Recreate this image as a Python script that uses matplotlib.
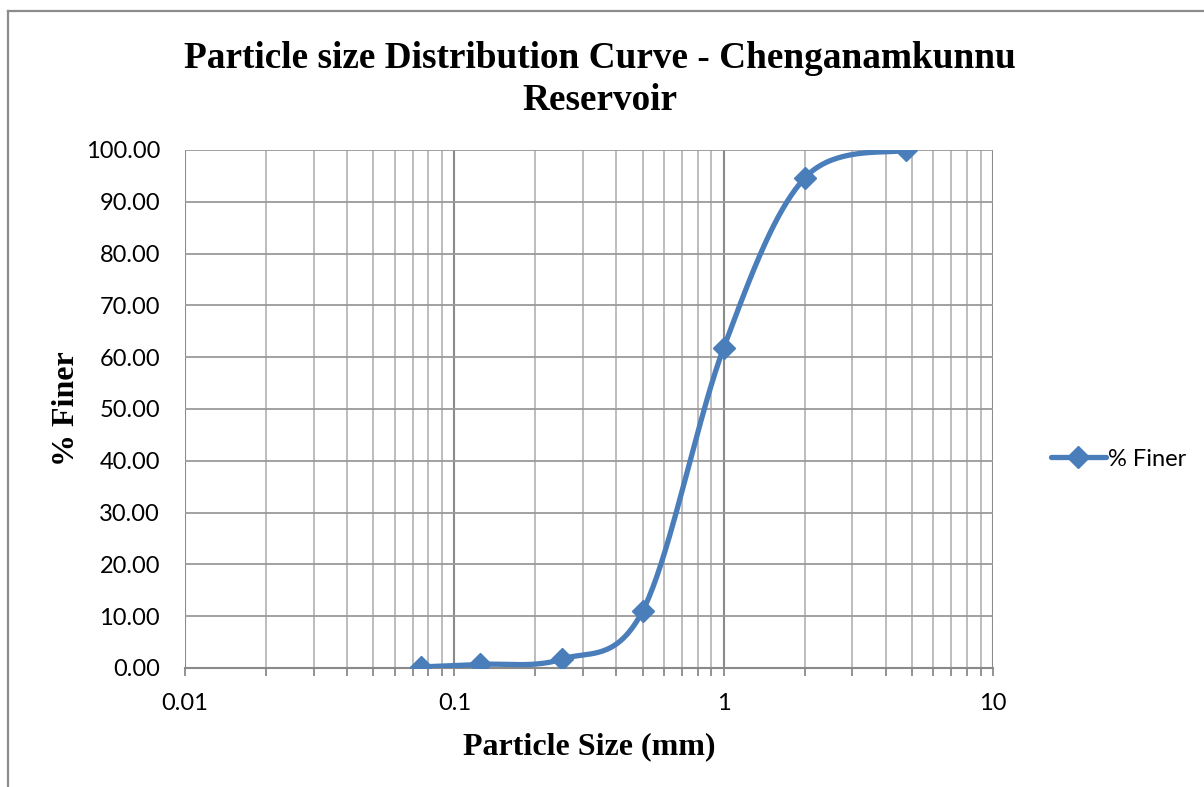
import numpy as np
import matplotlib.pyplot as plt
from matplotlib.ticker import LogLocator, FixedLocator, NullFormatter
from matplotlib.lines import Line2D

# sieve analysis results
sizes = [0.075, 0.125, 0.25, 0.5, 1.0, 2.0, 4.75]
finer = [0.2, 0.7, 1.7, 11.0, 61.8, 94.6, 100.0]
y_ticks = [0, 10, 20, 30, 40, 50, 60, 70, 80, 90, 100]
x_ticks = [0.01, 0.1, 1, 10]
x_labels = ['0.01', '0.1', '1', '10']

blue = '#4a7ebb'
tick_font = 'Lato'
serif = 'Liberation Serif'

fig = plt.figure(figsize=(12.04, 7.87), dpi=100)
ax = fig.add_axes([185/1204, 1-668/787, (993-185)/1204, (668-150)/787])

ax.set_xscale('log')
ax.set_xlim(0.01, 10)
ax.set_ylim(0, 100)


def smooth_curve(ax, xs, ys, n=40):
    # excel style smoothed line: catmull-rom bezier in screen space
    pts = ax.transData.transform(np.column_stack([xs, ys]))
    out = []
    for i in range(len(pts) - 1):
        p0 = pts[i - 1] if i > 0 else pts[i]
        p1 = pts[i]
        p2 = pts[i + 1]
        p3 = pts[i + 2] if i + 2 < len(pts) else pts[i + 1]
        c1 = p1 + (p2 - p0) / 6
        c2 = p2 - (p3 - p1) / 6
        t = np.linspace(0, 1, n)[:, None]
        seg = ((1-t)**3)*p1 + 3*((1-t)**2)*t*c1 + 3*(1-t)*t**2*c2 + t**3*p2
        out.append(seg if i == 0 else seg[1:])
    out = np.vstack(out)
    return ax.transData.inverted().transform(out)


curve = smooth_curve(ax, sizes, finer)
ax.plot(curve[:, 0], curve[:, 1], color=blue, lw=3.8, solid_capstyle='round', zorder=3)
ax.plot(sizes, finer, ls='none', marker='D', ms=11.5, color=blue, zorder=4)

# grid
ax.set_yticks(y_ticks)
ax.set_yticklabels([f'{v:.2f}' for v in y_ticks], fontsize=17, family=tick_font)
ax.xaxis.set_major_locator(FixedLocator(x_ticks))
ax.set_xticklabels(x_labels, fontsize=17, family=tick_font)
ax.xaxis.set_minor_locator(LogLocator(base=10, subs=np.arange(2, 10)))
ax.xaxis.set_minor_formatter(NullFormatter())
ax.grid(True, axis='y', color='#9a9a9a', lw=1.3)
ax.grid(True, axis='x', which='major', color='#8a8a8a', lw=1.5)
ax.grid(True, axis='x', which='minor', color='#b8b8b8', lw=1.3)
ax.set_axisbelow(True)

ax.tick_params(axis='y', length=0, pad=18)
ax.tick_params(axis='x', which='both', direction='out', length=6, color='#8a8a8a', width=1.3, pad=12)
for side in ['top', 'right', 'left']:
    ax.spines[side].set_visible(False)
ax.spines['bottom'].set_color('#8a8a8a')
ax.spines['bottom'].set_linewidth(1.5)
ax.axvline(0.01, color='#b8b8b8', lw=1.3, zorder=0)
ax.axvline(10, color='#b8b8b8', lw=1.3, zorder=0)

ax.set_xlabel('Particle Size (mm)', fontsize=23, fontweight='bold', family=serif, labelpad=13)
ax.set_ylabel('% Finer', fontsize=23, fontweight='bold', family=serif, labelpad=3)

fig.text(600/1204, 1-58/787, 'Particle size Distribution Curve - Chenganamkunnu',
         ha='center', va='center', fontsize=26.8, fontweight='bold', family=serif)
fig.text(600/1204, 1-100/787, 'Reservoir',
         ha='center', va='center', fontsize=26.8, fontweight='bold', family=serif)

leg_handle = Line2D([], [], color=blue, lw=3.8, marker='D', ms=11, solid_capstyle='round')
fig.legend([leg_handle], ['% Finer'], loc='center left', bbox_to_anchor=(1030/1204, 1-459/787),
           frameon=False, prop={'family': tick_font, 'size': 17}, handlelength=2.3,
           handletextpad=0.1)

# outer chart border
fig.add_artist(Line2D([8/1204, 8/1204], [0, 1-11/787], color='#8c8c8c', lw=1.6))
fig.add_artist(Line2D([8/1204, 1], [1-11/787, 1-11/787], color='#8c8c8c', lw=1.6))

fig.savefig('out.png', dpi=100)
